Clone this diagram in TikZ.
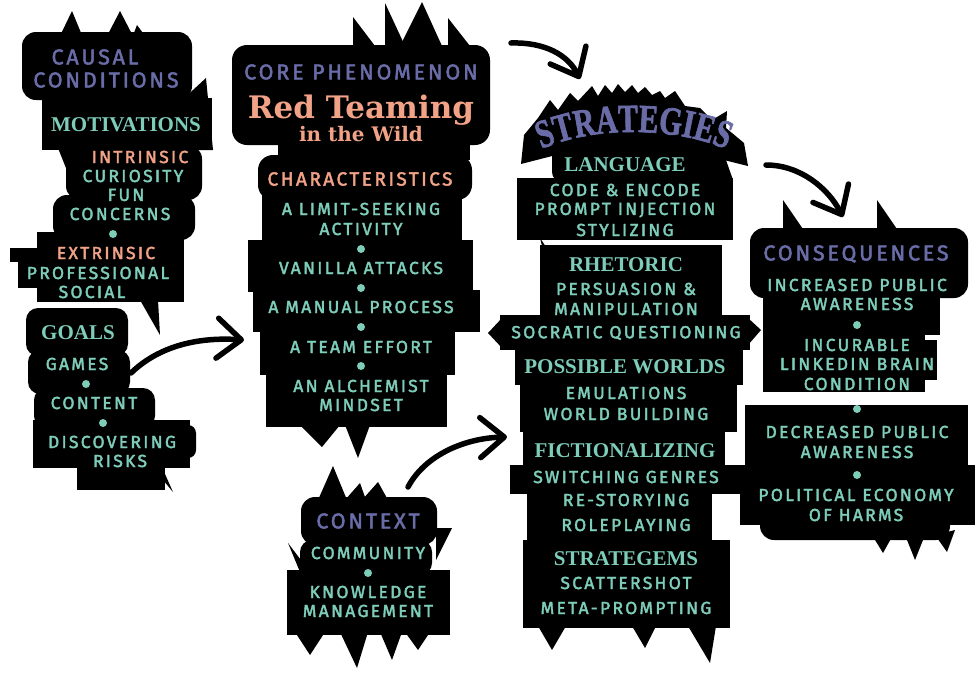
\documentclass[tikz,border=0pt]{standalone}
\usepackage{fontspec}
\usetikzlibrary{arrows.meta,decorations.text}
\newfontfamily\dinfont{Fira Sans}[LetterSpace=13,FakeBold=2.2]
\newfontfamily\headfont{Liberation Serif}[FakeStretch=1.0]
\newfontfamily\stratfont{Liberation Serif}[FakeStretch=0.74,FakeBold=1.5]
\newfontfamily\titlefont{DejaVu Serif}
\definecolor{tealc}{HTML}{7DCDB9}
\definecolor{salm}{HTML}{F2A387}
\definecolor{purp}{HTML}{6A6CA8}
\tikzset{
  blob/.style={fill=black},
  body/.style={font=\dinfont\fontsize{17.5}{18}\selectfont, text=tealc, inner sep=0pt},
  sal/.style={body, text=salm},
  hdr/.style={font=\dinfont\fontsize{21.5}{22}\selectfont, text=purp, inner sep=0pt},
  serifhd/.style={font=\headfont\bfseries\fontsize{21}{22}\selectfont, text=tealc, inner sep=0pt},
  tdot/.style={circle, fill=tealc, minimum size=8pt, inner sep=0pt},
  arr/.style={line width=5.5pt, line cap=round, -{Straight Barb[length=24pt,width=40pt,round]}}
}
\begin{document}
\begin{tikzpicture}[x=1pt,y=-1pt]
\useasboundingbox (0,0) rectangle (976,672);
% ---------------- column 1 blob
\fill[blob] (58,40) -- (72,11) -- (84,40) -- cycle;
\fill[blob] (106,38) -- (120,11) -- (134,38) -- cycle;
\fill[blob] (132,38) -- (137,25) -- (148,40) -- cycle;
\fill[blob,rounded corners=14] (22,32) rectangle (192,100);
\fill[blob] (150,33) rectangle (176,50);
\fill[blob] (180,102) -- (206,78) -- (213,150) -- (190,150) -- cycle;
\fill[blob] (42,98) rectangle (212,150);
\fill[blob] (58,148) -- (66,168) -- (84,148) -- cycle;
\fill[blob,rounded corners=14] (66,145) rectangle (202,200);
\fill[blob,rounded corners=14] (53,195) rectangle (195,240);
\fill[blob] (37,232) rectangle (184,302);
\fill[blob] (10,248) rectangle (40,262);
\fill[blob] (18,260) rectangle (40,288);
\fill[blob] (140,300) -- (158,300) -- (160,335) -- cycle;
\fill[blob,rounded corners=12] (26,308) rectangle (128,356);
\fill[blob,rounded corners=12] (28,350) rectangle (130,394);
\fill[blob,rounded corners=12] (34,388) rectangle (155,428);
\fill[blob] (33,420) rectangle (190,468);
\fill[blob,rounded corners=8] (175,425) rectangle (196,458);
\fill[blob] (77,460) rectangle (165,490);
\fill[blob] (158,474) -- (173,492) -- (165,474) -- cycle;
% ---------------- core blob
\fill[blob] (353,46) -- (353,17) -- (375,46) -- cycle;
\fill[blob] (385,46) -- (385,3) -- (405,46) -- cycle;
\fill[blob] (400,46) -- (422,2) -- (442,46) -- cycle;
\fill[blob] (448,46) -- (448,18) -- (470,46) -- cycle;
\fill[blob,rounded corners=15] (232,45) rectangle (490,145);
\fill[blob] (278,130) rectangle (470,160);
\fill[blob,rounded corners=15] (258,155) rectangle (472,200);
\fill[blob] (262,195) rectangle (462,242);
\fill[blob] (248,240) rectangle (473,292);
\fill[blob] (253,290) rectangle (480,332);
\fill[blob] (260,330) rectangle (455,375);
\fill[blob] (266,372) rectangle (447,427);
\fill[blob] (303,420) rectangle (415,427);
\fill[blob] (300,425) -- (322,447) -- (340,425) -- cycle;
\fill[blob] (345,425) -- (358,458) -- (370,425) -- cycle;
% ---------------- context blob
\fill[blob] (318,500) -- (333,466) -- (347,500) -- cycle;
\fill[blob] (345,500) -- (360,483) -- (366,500) -- cycle;
\fill[blob] (362,500) -- (378,482) -- (388,500) -- cycle;
\fill[blob,rounded corners=14] (301,497) rectangle (437,545);
\fill[blob] (436,528) -- (452,528) -- (436,560) -- cycle;
\fill[blob,rounded corners=12] (300,540) rectangle (432,575);
\fill[blob] (288,543) -- (310,572) -- (300,572) -- cycle;
\fill[blob] (287,570) rectangle (450,635);
\fill[blob] (295,632) -- (310,655) -- (325,632) -- cycle;
\fill[blob] (340,632) -- (357,668) -- (368,632) -- cycle;
\fill[blob] (380,632) -- (392,660) -- (402,632) -- cycle;
\fill[blob] (405,632) -- (418,650) -- (430,632) -- cycle;
% ---------------- strategies blob
\fill[blob] (521,164) -- (524,135) -- (538,118) -- (550,100) -- (558,110) -- (570,93)
  -- (578,101) -- (592,86) -- (598,96) -- (605,85) -- (612,93) -- (618,84) -- (625,92)
  -- (632,85) -- (638,93) -- (645,87) -- (652,95) -- (660,91) -- (665,98) -- (675,91)
  -- (685,106) -- (700,108) -- (712,120) -- (727,111) -- (726,128) -- (744,143)
  -- (748,166) -- (700,154) -- (630,146) -- (560,154) -- cycle;
\fill[blob,rounded corners=10] (552,142) rectangle (702,182);
\fill[blob] (700,150) -- (726,160) -- (733,180) -- (700,180) -- cycle;
\fill[blob] (517,178) rectangle (733,240);
\fill[blob] (540,238) -- (556,262) -- (546,262) -- cycle;
\fill[blob] (540,245) rectangle (722,320);
\fill[blob] (500,315) rectangle (750,350);
\fill[blob] (488,333) -- (502,318) -- (502,348) -- cycle;
\fill[blob] (748,318) -- (761,330) -- (748,345) -- cycle;
\fill[blob] (515,345) rectangle (743,385);
\fill[blob] (520,380) rectangle (737,432);
\fill[blob] (523,428) rectangle (725,470);
\fill[blob] (510,465) rectangle (742,494);
\fill[blob] (527,490) rectangle (712,545);
\fill[blob] (523,540) rectangle (730,628);
\fill[blob] (538,626) -- (552,650) -- (566,626) -- cycle;
\fill[blob] (632,626) -- (645,648) -- (656,626) -- cycle;
\fill[blob] (688,626) -- (710,663) -- (716,626) -- cycle;
% ---------------- consequences blob
\fill[blob] (783,200) -- (783,232) -- (805,232) -- cycle;
\fill[blob] (877,200) -- (877,232) -- (899,232) -- cycle;
\fill[blob,rounded corners=14] (750,228) rectangle (968,298);
\fill[blob] (763,290) rectangle (940,335);
\fill[blob] (763,330) rectangle (925,392);
\fill[blob] (920,340) rectangle (937,380);
\fill[blob] (745,405) rectangle (968,468);
\fill[blob] (740,465) rectangle (975,525);
\fill[blob,rounded corners=14] (760,505) rectangle (950,540);
\fill[blob] (872,535) -- (883,553) -- (893,535) -- cycle;
\fill[blob] (905,535) -- (915,560) -- (925,535) -- cycle;
\fill[blob] (935,535) -- (947,552) -- (955,530) -- cycle;

% ---------------- column 1 text
\node[hdr] (causal) at (95,57) {CAUSAL};
\node[hdr] (conditions) at (106,80) {CONDITIONS};
\node[serifhd] (motiv) at (126,125) {MOTIVATIONS};
\node[sal] (intrinsic) at (140,157) {INTRINSIC};
\node[body] (curiosity) at (133,176) {CURIOSITY};
\node[body] (fun) at (126,195) {FUN};
\node[body] (concerns) at (120,214) {CONCERNS};
\node[tdot] (dotA) at (113,234) {};
\node[sal] (extrinsic) at (106,253) {EXTRINSIC};
\node[body] (professional) at (98,273) {PROFESSIONAL};
\node[body] (social) at (92,292) {SOCIAL};
\node[serifhd] (goals) at (78,333) {GOALS};
\node[body] (games) at (77,364) {GAMES};
\node[tdot] (dotB) at (86,384) {};
\node[body] (content) at (94,403) {CONTENT};
\node[tdot] (dotC) at (103,423) {};
\node[body] (discovering) at (112,442) {DISCOVERING};
\node[body] (risks) at (120,461) {RISKS};

% ---------------- core text
\node[hdr] (core) at (361,72) {CORE PHENOMENON};
\node[font=\titlefont\bfseries\fontsize{31}{32}\selectfont, text=salm, inner sep=0pt] (redteam) at (361,110) {Red Teaming};
\node[font=\titlefont\bfseries\fontsize{20}{20}\selectfont, text=salm, inner sep=0pt, anchor=base] (wild) at (361,141) {in the Wild};
\node[sal, font=\dinfont\fontsize{19}{20}\selectfont] (charac) at (360,179) {CHARACTERISTICS};
\node[body] (limit) at (361,209) {A LIMIT-SEEKING};
\node[body] (activity) at (361,229) {ACTIVITY};
\node[tdot] (dotD) at (361,249) {};
\node[body] (vanilla) at (361,268) {VANILLA ATTACKS};
\node[tdot] (dotE) at (361,288) {};
\node[body] (manual) at (361,307) {A MANUAL PROCESS};
\node[tdot] (dotF) at (361,327) {};
\node[body] (team) at (361,347) {A TEAM EFFORT};
\node[tdot] (dotG) at (361,366) {};
\node[body] (alchemist) at (361,386) {AN ALCHEMIST};
\node[body] (mindset) at (361,405) {MINDSET};

% ---------------- context text
\node[hdr] (context) at (368,521) {CONTEXT};
\node[body] (community) at (368,553) {COMMUNITY};
\node[tdot] (dotH) at (368,573) {};
\node[body] (knowledge) at (368,592) {KNOWLEDGE};
\node[body] (management) at (368,611) {MANAGEMENT};

% ---------------- strategies text
\path[decorate, decoration={text along path, text={|\stratfont\bfseries\fontsize{40}{40}\selectfont|STRATEGIES}, text color=purp, text align=center}]
  (528,156) .. controls (582,124) and (683,124) .. (740,156);
\node[serifhd] (language) at (625,165) {LANGUAGE};
\node[body] (code) at (625,190) {CODE \& ENCODE};
\node[body] (prompt) at (625,210) {PROMPT INJECTION};
\node[body] (stylizing) at (625,230) {STYLIZING};
\node[serifhd] (rhetoric) at (626,265) {RHETORIC};
\node[body] (persuasion) at (626,289) {PERSUASION \&};
\node[body] (manipulation) at (626,309) {MANIPULATION};
\node[body] (socratic) at (626,333) {SOCRATIC QUESTIONING};
\node[serifhd] (possible) at (625,367) {POSSIBLE WORLDS};
\node[body] (emulations) at (626,393) {EMULATIONS};
\node[body] (worldb) at (626,414) {WORLD BUILDING};
\node[serifhd] (fiction) at (625,451) {FICTIONALIZING};
\node[body] (switching) at (626,477) {SWITCHING GENRES};
\node[body] (restory) at (626,500) {RE-STORYING};
\node[body] (roleplay) at (626,525) {ROLEPLAYING};
\node[serifhd] (strategems) at (626,559) {STRATEGEMS};
\node[body] (scatter) at (626,583) {SCATTERSHOT};
\node[body] (meta) at (626,608) {META-PROMPTING};

% ---------------- consequences text
\node[hdr] (conseq) at (856,254) {CONSEQUENCES};
\node[body] (increased) at (857,285) {INCREASED PUBLIC};
\node[body] (awareA) at (857,304) {AWARENESS};
\node[tdot] (dotI) at (857,325) {};
\node[body] (incurable) at (857,345) {INCURABLE};
\node[body] (linkedin) at (857,364) {LINKEDIN BRAIN};
\node[body] (condition) at (857,384) {CONDITION};
\node[tdot] (dotJ) at (857,409) {};
\node[body] (decreased) at (857,432) {DECREASED PUBLIC};
\node[body] (awareB) at (857,452) {AWARENESS};
\node[tdot] (dotK) at (857,475) {};
\node[body] (political) at (856,495) {POLITICAL ECONOMY};
\node[body] (harms) at (856,515) {OF HARMS};

% ---------------- arrows
\coordinate (a1s) at (131,373);
\coordinate (a1e) at (244,340);
\coordinate (a2s) at (408,487);
\coordinate (a2e) at (507,437);
\coordinate (a3s) at (511,43);
\coordinate (a3e) at (580,79);
\coordinate (a4s) at (766,165);
\coordinate (a4e) at (843,217);
\draw[arr] (a1s) .. controls (160,345) and (200,337) .. (a1e);
\draw[arr] (a2s) .. controls (425,455) and (465,438) .. (a2e);
\draw[arr] (a3s) .. controls (545,42) and (568,55) .. (a3e);
\draw[arr] (a4s) .. controls (800,165) and (828,188) .. (a4e);
\end{tikzpicture}
\end{document}
